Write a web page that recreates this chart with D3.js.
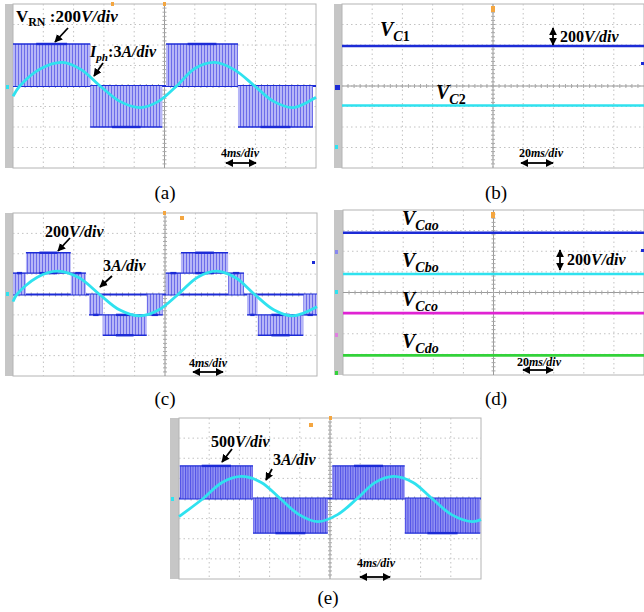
<!DOCTYPE html>
<meta charset="utf-8">
<body style="margin:0;background:white">
  <div id="content"></div>
</body>
<script src="https://cdn.jsdelivr.net/npm/d3@7/dist/d3.min.js"></script>
<script>
// scope screens are 10 x 8 divisions
var hDivs = 10, vDivs = 8;

// (a) phase voltage: [t0 ms, t1 ms, low div, high div], phase current: [ms, div]
var aVolt = [[0, 10.2, 0, 2.05], [10.2, 19.7, -2, 0], [20.2, 29.7, 0, 2.05], [29.7, 39.6, -2, 0]];
var aCurr = [[0, -0.5], [0.9, 0], [3.7, 0.85], [6.5, 1.15], [9.0, 0.8], [11.5, 0], [14.1, -0.75], [16.8, -1.05],
  [19.2, -0.75], [21.6, 0], [24.0, 0.85], [26.6, 1.15], [29.2, 0.8], [31.9, 0], [34.4, -0.75], [37.0, -1.05], [40, -0.55]];

// (b) capacitor voltages, div
var bLevels = [1.95, -0.95];

// (c) five level voltage and current
var cVolt = [[0, 1.7, 0, 1.05], [1.7, 7.6, 1.05, 2.05], [7.6, 9.6, 0, 1.05], [10.0, 11.8, -1, 0], [11.8, 17.6, -2, -1],
  [17.6, 19.7, -1, 0], [20.1, 22.1, 0, 1.05], [22.1, 28.3, 1.05, 2.05], [28.3, 30.4, 0, 1.05], [30.8, 32.2, -1, 0],
  [32.2, 38.2, -2, -1], [38.2, 40, -1, 0]];
var cCurr = [[0, -0.35], [0.5, 0], [3.2, 0.85], [5.9, 1.15], [8.7, 0.82], [11.4, 0], [14.0, -0.75], [16.7, -1.05],
  [19.2, -0.75], [21.7, 0], [24.3, 0.85], [26.8, 1.15], [29.3, 0.82], [31.8, 0], [34.3, -0.75], [36.8, -1.05], [40, -0.6]];

// (d) four capacitor voltages, div
var dLevels = [2.9, 0.9, -1.0, -3.05];

// (e) voltage and current
var eVolt = [[0.1, 9.8, 0, 1.62], [9.8, 19.7, -1.72, 0], [20.3, 29.9, 0, 1.62], [29.9, 39.9, -1.72, 0]];
var eCurr = [[0, -0.9], [3.2, 0], [5.7, 0.8], [8.3, 1.1], [10.9, 0.8], [13.4, 0], [15.9, -0.8], [18.4, -1.15],
  [21.0, -0.8], [23.6, 0], [26.0, 0.8], [28.4, 1.1], [31.0, 0.8], [33.5, 0], [36.1, -0.8], [38.8, -1.15], [40, -1.05]];

var serif = "'Liberation Serif','Times New Roman',serif";
var blue = '#1c2bd6', cyan = '#2fe2ef';

var svg = d3.select('#content').append('svg').attr('width', 644).attr('height', 612)
  .style('font-family', serif);
var defs = svg.append('defs');

function stripes(id, w, fill, line) {
  var p = defs.append('pattern').attr('id', id).attr('patternUnits', 'userSpaceOnUse')
    .attr('width', w).attr('height', 10);
  p.append('rect').attr('width', w).attr('height', 10).attr('fill', fill);
  p.append('rect').attr('width', 1).attr('height', 10).attr('fill', line);
}
stripes('pwm', 3, '#b6b6f7', '#6c6cea');
stripes('pwm2', 2.5, '#9393f3', '#5050e6');

defs.append('marker').attr('id', 'ah').attr('viewBox', '0 0 10 10').attr('refX', 9).attr('refY', 5)
  .attr('markerWidth', 8).attr('markerHeight', 8).attr('markerUnits', 'userSpaceOnUse').attr('orient', 'auto-start-reverse')
  .append('path').attr('d', 'M0,0L10,5L0,10z').attr('fill', 'black');

// draw the screen grid, return scales
function screen(box, tmax) {
  var g = svg.append('g');
  var gx = d3.scaleLinear().domain([0, hDivs]).range([box.x0, box.x1]);
  var gy = d3.scaleLinear().domain([0, vDivs]).range([box.y0, box.y1]);
  g.append('rect').attr('x', box.band).attr('y', box.y0).attr('width', box.x0 - box.band)
    .attr('height', box.y1 - box.y0).attr('fill', '#c6c6c6');
  g.append('rect').attr('x', box.x0).attr('y', box.y0).attr('width', box.x1 - box.x0)
    .attr('height', box.y1 - box.y0).attr('fill', 'none').attr('stroke', '#b4b4b4');
  g.selectAll('.vg').data(d3.range(1, hDivs)).enter().append('line')
    .attr('x1', gx).attr('x2', gx).attr('y1', box.y0).attr('y2', box.y1)
    .attr('stroke', '#c2c2c2').attr('stroke-dasharray', '1.5,3');
  g.selectAll('.hg').data(d3.range(1, vDivs)).enter().append('line')
    .attr('y1', gy).attr('y2', gy).attr('x1', box.x0).attr('x2', box.x1)
    .attr('stroke', '#c2c2c2').attr('stroke-dasharray', '1.5,3');
  var cx = gx(hDivs / 2), cy = gy(vDivs / 2);
  g.append('line').attr('x1', cx).attr('x2', cx).attr('y1', box.y0).attr('y2', box.y1).attr('stroke', '#9a9a9a');
  g.append('line').attr('y1', cy).attr('y2', cy).attr('x1', box.x0).attr('x2', box.x1).attr('stroke', '#9a9a9a');
  g.selectAll('.tx').data(d3.range(1, hDivs * 5)).enter().append('line')
    .attr('x1', function (d) { return gx(d / 5); }).attr('x2', function (d) { return gx(d / 5); })
    .attr('y1', cy - 2).attr('y2', cy + 2).attr('stroke', '#a8a8a8');
  g.selectAll('.ty').data(d3.range(1, vDivs * 5)).enter().append('line')
    .attr('y1', function (d) { return gy(d / 5); }).attr('y2', function (d) { return gy(d / 5); })
    .attr('x1', cx - 2).attr('x2', cx + 2).attr('stroke', '#a8a8a8');
  return {
    g: g,
    x: d3.scaleLinear().domain([0, tmax]).range([box.x0, box.x1]),
    y: d3.scaleLinear().domain([-vDivs / 2, vDivs / 2]).range([box.y1, box.y0]),
    box: box
  };
}

function pwm(s, segs, pat) {
  s.g.append('line').attr('x1', s.box.x0).attr('x2', s.box.x1).attr('y1', s.y(0)).attr('y2', s.y(0))
    .attr('stroke', blue).attr('stroke-width', 2.2);
  s.g.selectAll('.seg').data(segs).enter().append('rect')
    .attr('x', function (d) { return s.x(d[0]); })
    .attr('width', function (d) { return s.x(d[1]) - s.x(d[0]); })
    .attr('y', function (d) { return s.y(d[3]); })
    .attr('height', function (d) { return s.y(d[2]) - s.y(d[3]); })
    .attr('fill', 'url(#' + pat + ')');
  var edges = [];
  segs.forEach(function (d) { if (d[3] !== 0) edges.push([d[0], d[1], d[3]]); if (d[2] !== 0) edges.push([d[0], d[1], d[2]]); });
  s.g.selectAll('.edge').data(edges).enter().append('line')
    .attr('x1', function (d) { return s.x(d[0]); }).attr('x2', function (d) { return s.x(d[1]); })
    .attr('y1', function (d) { return s.y(d[2]); }).attr('y2', function (d) { return s.y(d[2]); })
    .attr('stroke', blue).attr('stroke-width', 1.4);
  // a darker trace in the middle of each level
  s.g.selectAll('.mid').data(edges).enter().append('line')
    .attr('x1', function (d) { return s.x(d[0] + (d[1] - d[0]) * 0.3); })
    .attr('x2', function (d) { return s.x(d[1] - (d[1] - d[0]) * 0.3); })
    .attr('y1', function (d) { return s.y(d[2]); }).attr('y2', function (d) { return s.y(d[2]); })
    .attr('stroke', blue).attr('stroke-width', 2.4);
}

function current(s, pts) {
  var line = d3.line().x(function (d) { return s.x(d[0]); }).y(function (d) { return s.y(d[1]); })
    .curve(d3.curveCatmullRom);
  s.g.append('path').datum(pts).attr('d', line).attr('fill', 'none')
    .attr('stroke', cyan).attr('stroke-width', 2.8);
}

function flat(s, v, color) {
  s.g.append('line').attr('x1', s.box.x0).attr('x2', s.box.x1).attr('y1', s.y(v)).attr('y2', s.y(v))
    .attr('stroke', color).attr('stroke-width', 2.6);
}

// rich text: parts [text, italic, sub]
function label(x, y, size, parts) {
  var t = svg.append('text').attr('x', x).attr('y', y).attr('font-size', size).attr('font-weight', 'bold');
  var down = false;
  parts.forEach(function (p) {
    var ts = t.append('tspan').text(p[0]).attr('font-style', p[1] ? 'italic' : 'normal');
    if (p[2] && !down) { ts.attr('dy', size * 0.25).attr('font-size', size * 0.7); down = true; }
    else if (p[2]) { ts.attr('font-size', size * 0.7); }
    else if (down) { ts.attr('dy', -size * 0.25); down = false; }
  });
}
function arrow(x1, y1, x2, y2, both) {
  var l = svg.append('line').attr('x1', x1).attr('y1', y1).attr('x2', x2).attr('y2', y2)
    .attr('stroke', 'black').attr('stroke-width', 1.8).attr('marker-end', 'url(#ah)');
  if (both) l.attr('marker-start', 'url(#ah)');
}
function dot(x, y, color, w, h) {
  svg.append('rect').attr('x', x).attr('y', y).attr('width', w || 4).attr('height', h || 4).attr('fill', color);
}
function caption(x, y, t) {
  svg.append('text').attr('x', x).attr('y', y).attr('text-anchor', 'middle').attr('font-size', 19).text(t);
}

// (a)
var sa = screen({ band: 5, x0: 13, x1: 316, y0: 4, y1: 168 }, 40);
pwm(sa, aVolt, 'pwm');
current(sa, aCurr);
label(16, 22, 17, [['V', false], ['RN', false, true], [' :200', false], ['V/div', true]]);
label(90, 57, 16, [['I', true], ['ph', true, true], [':3', false], ['A/div', true]]);
arrow(68, 28, 55, 42);
arrow(103, 63, 94, 76);
label(221, 157, 12, [['4', false], ['ms/div', true]]);
arrow(226, 163, 256, 163, true);
dot(163, 2, '#f4a640', 3, 4); dot(111, 2, '#f4a640', 3, 4); dot(6, 85, cyan, 3, 4);
caption(165, 199, '(a)');

// (b)
var sb = screen({ band: 334, x0: 342, x1: 644, y0: 4, y1: 168 }, 200);
flat(sb, bLevels[0], blue);
flat(sb, bLevels[1], cyan);
label(380, 36, 20, [['V', true], ['C', true, true], ['1', false, true]]);
label(436, 99, 20, [['V', true], ['C', true, true], ['2', false, true]]);
arrow(553, 36, 553, 28); arrow(553, 36, 553, 45);
label(560, 42, 16, [['200', false], ['V/div', true]]);
label(519, 157, 12, [['20', false], ['ms/div', true]]);
arrow(521, 163, 553, 163, true);
dot(491, 6, '#f4a640', 4, 6); dot(335, 85, blue, 5, 5); dot(335, 145, cyan, 3, 4); dot(641, 62, blue, 3, 3);
caption(496, 199, '(b)');

// (c)
var sc = screen({ band: 5, x0: 13, x1: 317, y0: 213, y1: 376 }, 40);
pwm(sc, cVolt, 'pwm');
current(sc, cCurr);
label(45, 237, 16, [['200', false], ['V/div', true]]);
label(103, 271, 16, [['3', false], ['A/div', true]]);
arrow(70, 238, 58, 251);
arrow(112, 276, 100, 287);
label(189, 367, 12, [['4', false], ['ms/div', true]]);
arrow(193, 372, 223, 372, true);
dot(163, 211, '#f4a640', 3, 4); dot(180, 216, '#f4a640', 4, 4); dot(312, 261, blue, 3, 3); dot(6, 292, cyan, 3, 4);
caption(165, 405, '(c)');

// (d)
var sd = screen({ band: 334, x0: 343, x1: 644, y0: 210, y1: 375 }, 200);
var dColors = [blue, cyan, '#e023d3', '#33d23a'];
dLevels.forEach(function (v, i) { flat(sd, v, dColors[i]); });
['ao', 'bo', 'co', 'do'].forEach(function (s, i) {
  label(402, [225, 267, 306, 348][i], 20, [['V', true], ['C' + s, true, true]]);
});
arrow(560, 260, 560, 250); arrow(560, 260, 560, 270);
label(567, 265, 16, [['200', false], ['V/div', true]]);
label(517, 366, 12, [['20', false], ['ms/div', true]]);
arrow(523, 370, 553, 370, true);
dot(491, 212, '#f4a640', 4, 6); dot(335, 250, '#8888ee', 3, 4); dot(335, 290, cyan, 3, 4);
dot(335, 333, '#e080e0', 3, 4); dot(335, 371, '#33d23a', 3, 4); dot(641, 249, blue, 3, 3);
caption(496, 405, '(d)');

// (e)
var se = screen({ band: 170, x0: 179, x1: 481, y0: 418, y1: 579 }, 40);
pwm(se, eVolt, 'pwm2');
current(se, eCurr);
label(211, 447, 16, [['500', false], ['V/div', true]]);
label(273, 465, 16, [['3', false], ['A/div', true]]);
arrow(232, 449, 222, 462);
arrow(272, 469, 266, 480);
label(357, 567, 12, [['4', false], ['ms/div', true]]);
arrow(360, 577, 390, 577, true);
dot(309, 423, '#f4a640', 4, 4); dot(329, 416, '#f4a640', 3, 4); dot(171, 497, cyan, 3, 4);
caption(328, 604, '(e)');
</script>
